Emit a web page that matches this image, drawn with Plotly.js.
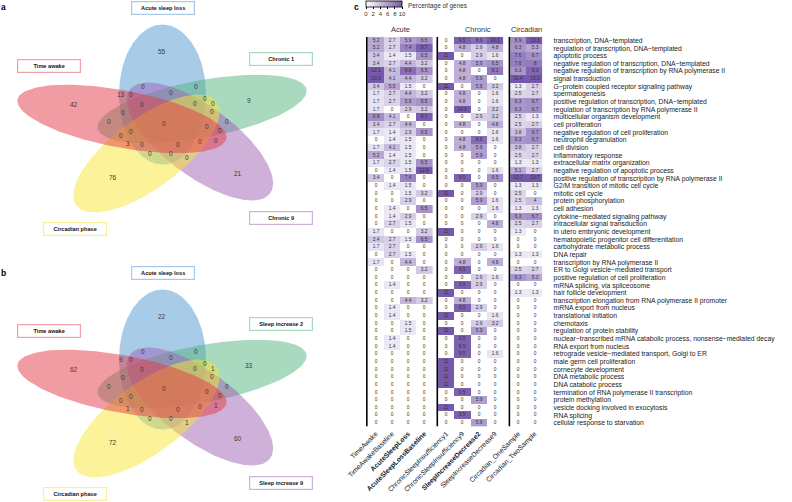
<!DOCTYPE html>
<html><head><meta charset="utf-8">
<script src="https://cdn.plot.ly/plotly-3.0.1.min.js"></script>
<style>html,body{margin:0;padding:0;background:#fff}#chart{width:792px;height:502px}</style>
</head><body><div id="chart"></div>
<script>
// ================= DATA =================
const goTerms = [
 'transcription, DNA\u2212templated',
 'regulation of transcription, DNA\u2212templated',
 'apoptotic process',
 'negative regulation of transcription, DNA\u2212templated',
 'negative regulation of transcription by RNA polymerase II',
 'signal transduction',
 'G\u2212protein coupled receptor signaling pathway',
 'spermatogenesis',
 'positive regulation of transcription, DNA\u2212templated',
 'regulation of transcription by RNA polymerase II',
 'multicellular organism development',
 'cell proliferation',
 'negative regulation of cell proliferation',
 'neutrophil degranulation',
 'cell division',
 'inflammatory response',
 'extracellular matrix organization',
 'negative regulation of apoptotic process',
 'positive regulation of transcription by RNA polymerase II',
 'G2/M transition of mitotic cell cycle',
 'mitotic cell cycle',
 'protein phosphorylation',
 'cell adhesion',
 'cytokine\u2212mediated signaling pathway',
 'intracellular signal transduction',
 'in utero embryonic development',
 'hematopoietic progenitor cell differentiation',
 'carbohydrate metabolic process',
 'DNA repair',
 'transcription by RNA polymerase II',
 'ER to Golgi vesicle\u2212mediated transport',
 'positive regulation of cell proliferation',
 'mRNA splicing, via spliceosome',
 'hair follicle development',
 'transcription elongation from RNA polymerase II promoter',
 'mRNA export from nucleus',
 'translational initiation',
 'chemotaxis',
 'regulation of protein stability',
 'nuclear\u2212transcribed mRNA catabolic process, nonsense\u2212mediated decay',
 'RNA export from nucleus',
 'retrograde vesicle\u2212mediated transport, Golgi to ER',
 'male germ cell proliferation',
 'cornecyte development',
 'DNA metabolic process',
 'DNA catabolic process',
 'termination of RNA polymerase II transcription',
 'protein methylation',
 'vesicle docking involved in exocytosis',
 'RNA splicing',
 'cellular response to starvation'
];
const colNames = ['TimeAwake','TimeAwakeBaseline','AcuteSleepLoss','AcuteSleepLossBaseline',
 'ChronicSleepInsufficiency1','ChronicSleepInsufficiency9','SleepIncreaseDecrease2','SleepIncreaseDecrease9',
 'Circadian_OneSample','Circadian_TwoSample'];
const boldCols = ['AcuteSleepLoss','AcuteSleepLossBaseline','SleepIncreaseDecrease2'];
const groupNames = ['Acute','Chronic','Circadian'];

const timeAwake = [5.2,5.2,3.4,3.4,12.1,10.3,3.4,1.7,1.7,1.7, 6.9,3.4,1.7,0,1.7,5.2,1.7,0,3.4,0, 0,0,0,0,0,1.7,3.4,1.7,0,1.7, 0,0,0,0,0,0,0,0,0,0, 0,0,0,0,0,0,0,0,0,0,0];
const timeAwakeBaseline = [2.7,2.7,1.4,2.7,4.1,4.1,5.5,2.7,2.7,0, 4.1,2.7,1.4,1.4,4.1,1.4,2.7,1.4,0,1.4, 0,0,1.4,1.4,2.7,0,2.7,2.7,2.7,0, 0,0,1.4,0,0,1.4,1.4,0,0,1.4, 1.4,0,0,0,0,0,0,0,0,0,0];
const acuteSleepLoss = [5.9,7.4,1.5,4.4,8.8,4.4,1.5,4.4,5.9,2.9, 0,4.4,2.9,1.5,1.5,1.5,1.5,1.5,7.4,1.5, 1.5,2.9,0,2.9,1.5,0,1.5,0,1.5,4.4, 0,0,0,0,4.4,0,0,1.5,1.5,0, 0,0,0,0,0,0,0,0,0,0,0];
const acuteSleepLossBaseline = [6.5,9.7,6.5,3.2,6.5,3.2,0,3.2,6.5,3.2, 9.7,0,6.5,0,0,0,6.5,12.9,0,0, 3.2,0,6.5,0,0,3.2,6.5,0,0,0, 3.2,0,0,0,3.2,0,0,0,0,0, 0,0,0,0,0,0,0,0,0,0,0];
const chronic1 = [0,0,11,0,0,0,11,0,0,0, 0,0,0,0,0,0,0,0,0,0, 11,0,0,0,0,11,0,0,0,0, 0,0,0,11,0,0,11,0,11,0, 0,0,11,11,11,11,0,0,11,0,0];
const chronic9 = [9.5,4.8,0,4.8,4.8,4.8,0,4.8,4.8,14.3, 0,4.8,0,4.8,4.8,0,0,0,9.5,0, 0,0,0,0,0,0,0,0,0,4.8, 9.5,0,9.5,0,4.8,9.5,0,0,0,9.5, 9.5,9.5,0,0,0,0,9.5,0,0,9.5,0];
const sleepIncDec2 = [8.6,2.9,2.9,5.9,0,5.9,5.9,0,0,0, 2.9,0,0,8.8,5.9,5.9,0,0,0,5.9, 2.9,5.9,0,2.9,0,0,0,2.9,0,0, 0,2.9,2.9,0,0,2.9,0,2.9,5.9,0, 0,0,0,0,0,0,0,5.9,0,0,5.9];
const sleepIncDec9 = [16.1,4.8,1.6,6.5,8.1,0,3.2,1.6,1.6,3.2, 3.2,4.8,1.6,1.6,0,0,0,1.6,6.5,0, 0,1.6,1.6,0,4.8,0,0,1.6,0,4.8, 0,1.6,0,0,0,0,1.6,3.2,0,0, 0,1.6,0,0,0,0,0,0,0,0,0];
const circadianOne = [6.9,6.3,7.6,7.6,6.3,11.4,1.3,2.5,6.3,6.3, 2.5,2.5,3.8,6.3,3.8,2.5,1.3,5.1,12.7,1.3, 2.5,2.5,1.3,6.3,2.5,1.3,0,0,1.3,0, 2.5,6.3,0,1.3,0,0,0,0,0,0, 0,0,0,0,0,0,0,0,0,0,0];
const circadianTwo = [13.3,5.3,6.7,8,9.3,13.3,2.7,2.7,6.7,6.7, 1.3,2.7,6.7,6.7,2.7,2.7,1.3,2.7,10.7,1.3, 0,4,1.3,6.7,2.7,0,0,0,1.3,0, 2.7,5.3,0,1.3,0,0,0,0,0,0, 0,0,0,0,0,0,0,0,0,0,0];

// Venn diagrams
const vennSetsA = ['Acute sleep loss','Time awake','Circadian phase','Chronic 9','Chronic 1'];
const vennSetsB = ['Acute sleep loss','Time awake','Circadian phase','Sleep increase 9','Sleep increase 2'];
const vennCountsA = [55,9,21,76,42, 0,13,0,0,0,0,0,0,0,0,0,0,0,0,0,0,0,0,0,0,3,0,0,0,0,0];
const vennCountsB = [22,33,60,72,62, 0,9,0,0,0,0,1,0,0,0,0,0,0,0,0,0,0,0,1,0,1,0,0,0,0,1];

// ================= LAYOUT GEOMETRY =================
const W = 792, H = 502;
const panelOffsets = [0, 265];
// region label positions (px, panel-relative)
const regionPos = [[161.7,51],[249,100.5],[237.5,173],[112.5,177.5],[73.7,104.5],
 [142.7,86.7],[121.3,94.3],[131,94.3],[171,92.7],[196,86.7],[205.3,98.7],[212.7,103],[195.3,103],
 [141.9,104],[211.8,111.3],[123.3,112.7],[109.1,121.7],[163.8,123],[226.7,121.8],[206.7,126.6],
 [219.6,130.2],[131.2,131.7],[121.2,135],[215.5,140],[200.1,141.8],[127.8,143.8],[142.2,144.3],
 [177.9,144],[150.3,153.8],[170.5,153.8],[187.1,157.1]];
// ellipse geometry: order blue, red, yellow, purple, green
const ell = {sx:1.558, A:70, B:27.9};
const ellCenters = [[162.5,94.5],[122,119],[146.5,153.5],[200,141.5],[202,109]];
const ellRot = [90,162,234,306,18];
const ellFill = ['rgba(81,151,209,0.5)','rgba(228,58,70,0.5)','rgba(248,230,52,0.5)','rgba(160,98,180,0.5)','rgba(84,180,126,0.5)'];
const ellBorder = ['#a6c9ea','#f0a0a6','#f7ee9a','#cdb1da','#a8d8bd'];
const drawOrder = [0,4,3,2,1];
const labelPos = [[162.8,7.8],[48.7,66.2],[74.7,228.8],[280.5,217.8],[280.5,58.7]];

const FONT = 'Liberation Sans, Arial, Helvetica, sans-serif';
const traces = [];
const annotations = [];
const shapes = [];

function ellipsePts(cx, cy, rotDeg){
  const r = rotDeg*Math.PI/180, ux=Math.cos(r), uy=Math.sin(r), vx=-Math.sin(r), vy=Math.cos(r);
  const xs=[], ys=[];
  for(let k=0;k<=180;k++){
    const t = 2*Math.PI*k/180;
    const a = ell.A*Math.cos(t), b = ell.B*Math.sin(t);
    xs.push(cx + ell.sx*(a*ux + b*vx));
    ys.push(cy - (a*uy + b*vy));
  }
  return [xs, ys];
}

panelOffsets.forEach((off, p) => {
  drawOrder.forEach(i => {
    const [xs, ys] = ellipsePts(ellCenters[i][0], ellCenters[i][1] + off, ellRot[i]);
    traces.push({type:'scatter', mode:'lines', x:xs, y:ys, fill:'toself', fillcolor:ellFill[i],
      line:{width:0, color:'rgba(0,0,0,0)'}, hoverinfo:'skip', showlegend:false, xaxis:'x', yaxis:'y'});
  });
  const counts = p===0 ? vennCountsA : vennCountsB;
  counts.forEach((c, k) => {
    annotations.push({xref:'x', yref:'y', x:regionPos[k][0], y:regionPos[k][1]+off, text:String(c),
      showarrow:false, font:{family:FONT, size:6.5, color:'#3a3a3a'}});
  });
  const names = p===0 ? vennSetsA : vennSetsB;
  names.forEach((nm, i) => {
    annotations.push({xref:'x', yref:'y', x:labelPos[i][0], y:labelPos[i][1]+off, text:'<b>'+nm+'</b>',
      showarrow:false, width:60, height:9.5, borderpad:1, bordercolor:ellBorder[i], borderwidth:1.2,
      bgcolor:'#ffffff', font:{family:FONT, size:5.6, color:'#111'}});
  });
});

// panel letters
[['a',3.5,7],['b',3.5,273],['c',356,7]].forEach(([t,x,y]) => annotations.push({xref:'x', yref:'y', x:x, y:y,
  text:'<b>'+t+'</b>', showarrow:false, font:{family:FONT, size:8.5, color:'#000'}}));

// ================= HEATMAP =================
const colVals = [timeAwake,timeAwakeBaseline,acuteSleepLoss,acuteSleepLossBaseline,chronic1,chronic9,sleepIncDec2,sleepIncDec9,circadianOne,circadianTwo];
const colGroups = [[0,1,2,3],[4,5,6,7],[8,9]];
const colX = [0,1,2,3, 4.35,5.35,6.35,7.35, 8.8,9.8];
const groupLineX = [-0.55, 3.8, 8.25];
const groupLabelPx = [400.5, 478, 526];
const rowIdx = goTerms.map((_, r) => r);

colGroups.forEach(g => {
  traces.push({type:'heatmap', xaxis:'x2', yaxis:'y2', coloraxis:'coloraxis',
    x: g.map(c => colX[c]), y: rowIdx,
    z: rowIdx.map(r => g.map(c => colVals[c][r])),
    texttemplate:'%{z}', textfont:{family:FONT, size:4.8, color:'#333'}, hoverinfo:'skip'});
});
groupLineX.forEach(x => shapes.push({type:'line', xref:'x2', yref:'y2', x0:x, x1:x, y0:-0.5, y1:50.5,
  line:{color:'#000', width:1.6}, layer:'above'}));
groupNames.forEach((g, i) => annotations.push({xref:'x', yref:'y', x:groupLabelPx[i], y:29.5, text:g,
  showarrow:false, font:{family:FONT, size:7.4, color:'#333'}}));
annotations.push({xref:'x', yref:'y', x:406, y:5.5, xanchor:'left', text:'Percentage of genes', showarrow:false,
  font:{family:FONT, size:6.4, color:'#333'}});

const hmTop = 36.7, hmBot = 426.6, hmLeft = 366, hmRight = 542.6;

const layout = {
  width:W, height:H, margin:{l:0,r:0,t:0,b:0}, paper_bgcolor:'#fff', plot_bgcolor:'rgba(0,0,0,0)',
  showlegend:false,
  xaxis:{domain:[0,1], range:[0,W], visible:false, fixedrange:true},
  yaxis:{domain:[0,1], range:[H,0], visible:false, fixedrange:true},
  xaxis2:{domain:[hmLeft/W, hmRight/W], range:[-0.6,10.3], anchor:'y2', showgrid:false, zeroline:false,
    tickmode:'array', tickvals:colX,
    ticktext:colNames.map(n => boldCols.includes(n) ? '<b>'+n+'</b>' : n),
    tickangle:-45, ticks:'', ticklabelstandoff:1, tickfont:{family:FONT, size:6.8, color:'#1a1a1a'}},
  yaxis2:{domain:[1-hmBot/H, 1-hmTop/H], range:[50.5,-0.5], anchor:'x2', side:'right', showgrid:false, zeroline:false,
    tickmode:'array', tickvals:rowIdx, ticktext:goTerms, ticks:'', ticklabelstandoff:10,
    tickfont:{family:FONT, size:6.8, color:'#222'}},
  coloraxis:{colorscale:[[0,'#ffffff'],[1,'#7559ac']], cmin:0, cmax:10,
    colorbar:{orientation:'h', x:366/W, xanchor:'left', y:1-1/H, yanchor:'top', len:36, lenmode:'pixels',
      thickness:6, thicknessmode:'pixels', xpad:0, ypad:0, tickvals:[0,2,4,6,8,10], tickangle:0,
      ticks:'outside', ticklen:2, tickcolor:'#000', outlinewidth:0.8, outlinecolor:'#000',
      tickfont:{family:FONT, size:6, color:'#333'}}},
  annotations:annotations, shapes:shapes
};
Plotly.newPlot('chart', traces, layout, {displayModeBar:false, staticPlot:true});
</script></body></html>
